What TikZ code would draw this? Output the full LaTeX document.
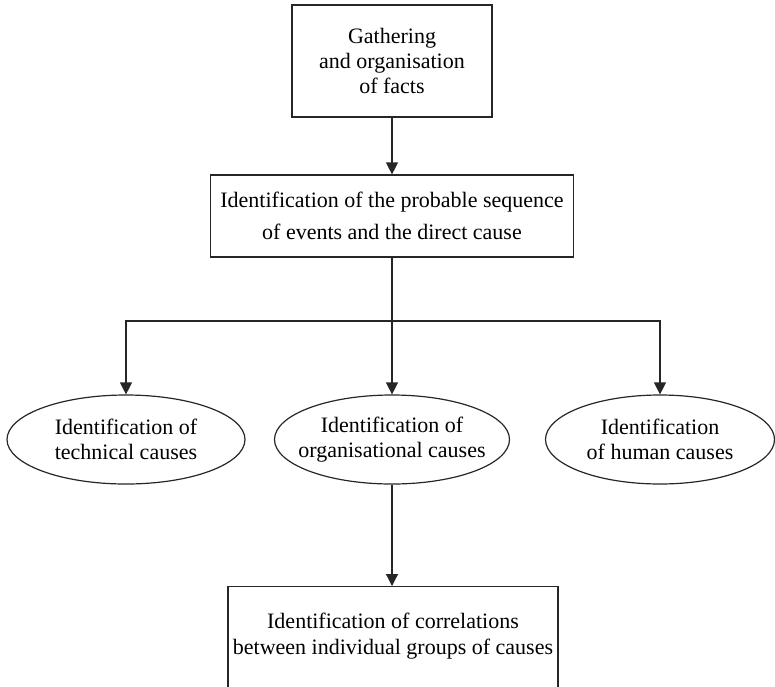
\documentclass[tikz,border=0pt]{standalone}
\usepackage{fontspec}
\setmainfont{Liberation Serif}
\usetikzlibrary{arrows.meta,shapes.geometric}

\tikzset{
  ink/.style={draw=black!85, line width=1.2pt},
  stagebox/.style={ink, rectangle, align=center, inner sep=0pt,
    font=\fontsize{22}{25}\selectfont},
  causebubble/.style={ink, ellipse, align=center, inner xsep=-40pt,
    inner ysep=-20pt, minimum height=89pt, font=\fontsize{22}{25}\selectfont},
  link/.style={ink, line join=miter},
  flow/.style={link, -{Triangle[length=12pt,width=12pt]}},
}

\begin{document}
\begin{tikzpicture}[x=1pt,y=-1pt]
  \useasboundingbox (0,0) rectangle (775,686);
  \clip (0,0) rectangle (775,686);

  % first stage
  \node[stagebox, minimum width=200pt, minimum height=112pt] (gather) at (392,61)
    {Gathering\\and organisation\\of facts};

  % second stage
  \node[stagebox, minimum width=363pt, minimum height=82pt,
        font=\fontsize{22}{32}\selectfont] (seq) at (392,216)
    {Identification of the probable sequence\\of events and the direct cause};

  % the three groups of causes
  \node[causebubble, minimum width=238pt] (tech) at (126,439.5)
    {Identification of\\technical causes};
  \node[causebubble, minimum width=235pt] (org) at (392,439.5)
    {Identification of\\organisational causes};
  \node[causebubble, minimum width=229pt] (human) at (660,439.5)
    {Identification\\of human causes};

  % final stage, running past the lower edge
  \node[stagebox, anchor=north, minimum width=330pt, inner ysep=26pt,
        text depth=120pt, font=\fontsize{22}{26}\selectfont] (corr) at (393,586)
    {Identification of correlations\\between individual groups of causes};

  % connectors
  \coordinate (fork) at (392,321);
  \draw[flow] (gather) -- (seq);
  \draw[link] (seq.south) -- (fork);
  \draw[flow] (fork) -| (tech.north);
  \draw[flow] (fork) -- (org.north);
  \draw[flow] (fork) -| (human.north);
  \draw[flow] (org.south) -- (org.south |- corr.north);
\end{tikzpicture}
\end{document}
